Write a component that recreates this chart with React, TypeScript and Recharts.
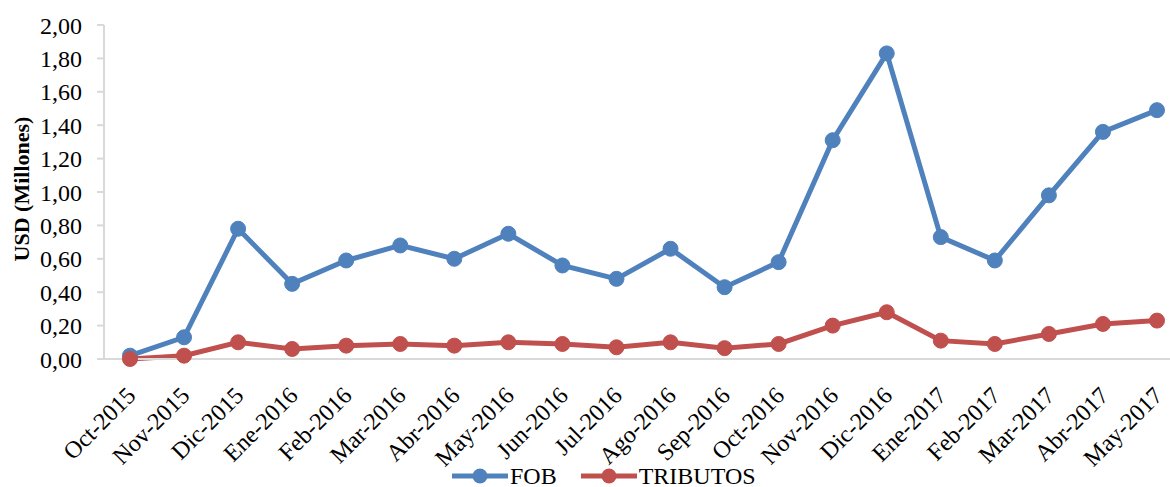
import { CartesianGrid, Legend, Line, LineChart, XAxis, YAxis } from "recharts"

const months = [
  "Oct-2015", "Nov-2015", "Dic-2015", "Ene-2016", "Feb-2016", "Mar-2016", "Abr-2016",
  "May-2016", "Jun-2016", "Jul-2016", "Ago-2016", "Sep-2016", "Oct-2016", "Nov-2016",
  "Dic-2016", "Ene-2017", "Feb-2017", "Mar-2017", "Abr-2017", "May-2017",
]

const fob = [
  0.02, 0.13, 0.78, 0.45, 0.59, 0.68, 0.6, 0.75, 0.56, 0.48,
  0.66, 0.43, 0.58, 1.31, 1.83, 0.73, 0.59, 0.98, 1.36, 1.49,
]

const tributos = [
  0.0, 0.02, 0.1, 0.06, 0.08, 0.09, 0.08, 0.1, 0.09, 0.07,
  0.1, 0.065, 0.09, 0.2, 0.28, 0.11, 0.09, 0.15, 0.21, 0.23,
]

const yTicks = [0, 0.2, 0.4, 0.6, 0.8, 1.0, 1.2, 1.4, 1.6, 1.8, 2.0]

const data = months.map((month, i) => ({ month, fob: fob[i], tributos: tributos[i] }))

const FONT = '"Liberation Serif", "Times New Roman", serif'
const BLUE = "#4F81BD"
const RED = "#C0504D"

const fmt = (v: number) => v.toFixed(2).replace(".", ",")

function MonthTick({ x, y, payload }: any) {
  return (
    <g transform={`translate(${x + 7},${y + 30})`}>
      <text
        textAnchor="end"
        transform="rotate(-45)"
        fontFamily={FONT}
        fontSize={24}
        fill="#000"
      >
        {payload.value}
      </text>
    </g>
  )
}

function AxisTitle({ viewBox }: any) {
  const cy = viewBox.y + viewBox.height / 2 - 3
  return (
    <text
      x={21}
      y={cy}
      transform={`rotate(-90, 21, ${cy})`}
      textAnchor="middle"
      dominantBaseline="central"
      fontFamily={FONT}
      fontSize={22}
      fontWeight="bold"
      fill="#000"
    >
      USD (Millones)
    </text>
  )
}

function LegendItem({ color, label }: { color: string; label: string }) {
  return (
    <div style={{ display: "flex", alignItems: "center", marginRight: 24 }}>
      <svg width={56} height={20}>
        <line x1={0} y1={10} x2={56} y2={10} stroke={color} strokeWidth={5} />
        <circle cx={28} cy={10} r={7.5} fill={color} />
      </svg>
      <span style={{ marginLeft: 2, fontFamily: FONT, fontSize: 24, color: "#000", lineHeight: "22px" }}>
        {label}
      </span>
    </div>
  )
}

function ChartLegend() {
  return (
    <div style={{ display: "flex", alignItems: "center", paddingLeft: 452, paddingTop: 13, height: 22 }}>
      <LegendItem color={BLUE} label="FOB" />
      <LegendItem color={RED} label="TRIBUTOS" />
    </div>
  )
}

export default function App() {
  return (
    <div style={{ position: "absolute", left: 0, top: 0, width: 1170, height: 487, background: "#fff" }}>
      <LineChart
        width={1170}
        height={487}
        data={data}
        margin={{ top: 25, right: 0, bottom: 0, left: 0 }}
      >
        <CartesianGrid horizontal={false} vertical={false} />
        <XAxis
          dataKey="month"
          interval={0}
          tickLine={false}
          axisLine={{ stroke: "#d9d9d9", strokeWidth: 2 }}
          tick={<MonthTick />}
          height={93}
          padding={{ left: 26, right: 13 }}
        />
        <YAxis
          width={104}
          domain={[0, 2]}
          ticks={yTicks}
          tickFormatter={fmt}
          axisLine={{ stroke: "#d9d9d9", strokeWidth: 2 }}
          tickLine={{ stroke: "#d9d9d9", strokeWidth: 2 }}
          tickSize={7}
          tickMargin={15}
          tick={{ fontFamily: FONT, fontSize: 24, fill: "#000" }}
          label={<AxisTitle />}
        />
        <Legend verticalAlign="bottom" content={<ChartLegend />} wrapperStyle={{ left: 0, width: 1170 }} />
        <Line
          dataKey="fob"
          name="FOB"
          stroke={BLUE}
          strokeWidth={5}
          dot={{ r: 7.5, fill: BLUE, stroke: BLUE, strokeWidth: 1 }}
          isAnimationActive={false}
        />
        <Line
          dataKey="tributos"
          name="TRIBUTOS"
          stroke={RED}
          strokeWidth={5}
          dot={{ r: 7.5, fill: RED, stroke: RED, strokeWidth: 1 }}
          isAnimationActive={false}
        />
      </LineChart>
    </div>
  )
}
